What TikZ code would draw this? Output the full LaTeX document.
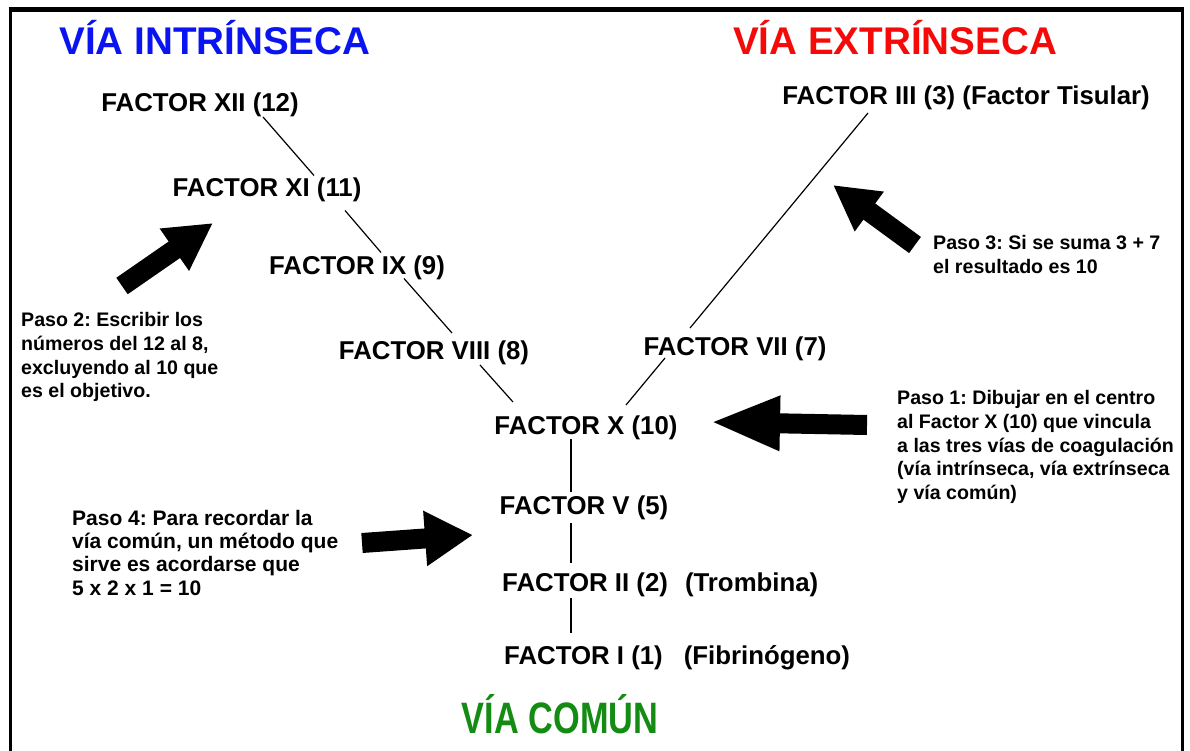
\documentclass[tikz,border=0pt]{standalone}
\usepackage{fontspec}
\setmainfont{Liberation Sans}
\frenchspacing
\usetikzlibrary{arrows.meta,calc}
\definecolor{viaBlue}{HTML}{0A14F0}
\definecolor{viaRed}{HTML}{F50A0A}
\definecolor{viaGreen}{HTML}{148C14}
\tikzset{
  factor/.style={inner sep=0pt, text height=18.5pt, text depth=0pt,
    font=\fontsize{25.8}{30}\selectfont\bfseries},
  via/.style={inner sep=0pt, text height=27.6pt, text depth=0pt,
    font=\fontsize{38.6}{44}\selectfont\bfseries},
  paso/.style={inner sep=0pt, anchor=north west, align=left,
    font=\fontsize{19.6}{23.8}\selectfont\bfseries},
  link/.style={line width=1.2pt},
  bigarrow/.style={line width=20pt}
}

\begin{document}
\begin{tikzpicture}[x=1pt,y=-1pt]
\fill[white] (0,0) rectangle (1190,751);
\useasboundingbox (0,0) rectangle (1190,751);
\draw[line width=3pt] (10,751) -- (10,10) -- (1182,10) -- (1182,751);
\draw[line width=5pt] (8.5,9.5) -- (1183.5,9.5);

\node[via, text=viaBlue] (intrinseca) at (215,40.5) {VÍA INTRÍNSECA};
\node[via, text=viaRed] (extrinseca) at (895,40.5) {VÍA EXTRÍNSECA};
\node[via, text=viaGreen, text height=31.5pt, font=\fontsize{44}{50}\selectfont\bfseries] (comun) at (560,718) {\scalebox{0.78}[1]{VÍA COMÚN}};

\node[factor] (XII) at (200,102) {FACTOR XII (12)};
\node[factor] (XI) at (267,187.5) {FACTOR XI (11)};
\node[factor] (IX) at (357,265.5) {FACTOR IX (9)};
\node[factor] (VIII) at (434,350) {FACTOR VIII (8)};
\node[factor] (X) at (586,425) {FACTOR X (10)};
\node[factor] (VII) at (735,346) {FACTOR VII (7)};
\node[factor] (III) at (966,95) {FACTOR III (3) (Factor Tisular)};
\node[factor] (V) at (584,505) {FACTOR V (5)};
\node[factor, anchor=west] (II) at (502,582) {FACTOR II (2)\hspace{17pt}(Trombina)};
\node[factor, anchor=west] (I) at (504,655) {FACTOR I (1)\hspace{21pt}(Fibrinógeno)};

\draw[link] ($(XII)+(63,15)$) -- ($(XI)+(47,-12)$);
\draw[link] ($(XI)+(78,23)$) -- ($(IX)+(24,-13)$);
\draw[link] ($(IX)+(47,13)$) -- ($(VIII)+(18,-17)$);
\draw[link] ($(VIII)+(46,15)$) -- ($(X)+(-73,-23)$);
\draw[link] ($(III)+(-98,18)$) -- ($(VII)+(-45,-18)$);
\draw[link] ($(VII)+(-70,12)$) -- ($(X)+(40,-20)$);
\draw[link] ($(X)+(-15,14)$) -- ($(V)+(-13,-13)$);
\draw[link] ($(V)+(-13,18)$) -- ($(II.west)+(69,-19)$);
\draw[link] ($(II.west)+(69,16)$) -- ($(I.west)+(67,-22)$);

\node[paso] (paso1) at (897,390) {Paso 1: Dibujar en el centro\\al Factor X (10) que vincula\\a las tres vías de coagulación\\(vía intrínseca, vía extrínseca\\y vía común)};
\node[paso] (paso2) at (21,312) {Paso 2: Escribir los\\números del 12 al 8,\\excluyendo al 10 que\\es el objetivo.};
\node[paso] (paso3) at (933,235) {Paso 3: Si se suma 3 + 7\\el resultado es 10};
\node[paso, font=\fontsize{21}{23.2}\selectfont\bfseries] (paso4) at (72,510) {Paso 4: Para recordar la\\vía común, un método que\\sirve es acordarse que\\5 x 2 x 1 = 10};

\coordinate (tail1) at (867,425);
\coordinate (tip1) at (710,422);
\coordinate (tail2) at (122,286);
\coordinate (tip2) at (213,223);
\coordinate (tail3) at (915,245);
\coordinate (tip3) at (833,185);
\coordinate (tail4) at (362,543);
\coordinate (tip4) at (473,535);
\draw[bigarrow, -{Triangle[length=70pt,width=50pt]}] (tail1) -- (tip1);
\draw[bigarrow, -{Triangle[length=47pt,width=48pt]}] (tail2) -- (tip2);
\draw[bigarrow, -{Triangle[length=45pt,width=46pt]}] (tail3) -- (tip3);
\draw[bigarrow, -{Triangle[length=48pt,width=52pt]}] (tail4) -- (tip4);
\end{tikzpicture}
\end{document}
